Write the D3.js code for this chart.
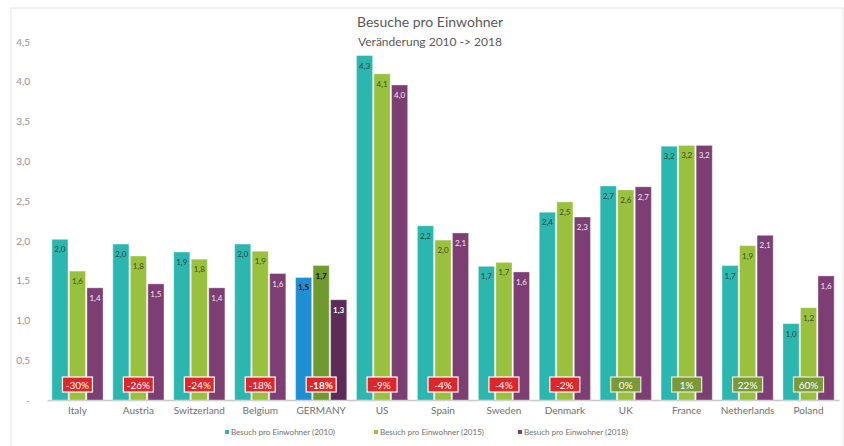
<!DOCTYPE html>
<html>
<head>
  <meta charset="utf-8">
  <title>Besuche pro Einwohner</title>
  <script src="https://d3js.org/d3.v7.min.js"></script>
  <style>
    body {
      margin: 0;
      background: #ffffff;
    }
    svg text {
      font-family: Lato, "Open Sans", sans-serif;
    }
  </style>
</head>
<body>
  <div id="chart"></div>
  <script>
    // data
    var countries = ["Italy", "Austria", "Switzerland", "Belgium", "GERMANY", "US", "Spain",
                     "Sweden", "Denmark", "UK", "France", "Netherlands", "Poland"];
    var seriesNames = ["Besuch pro Einwohner (2010)", "Besuch pro Einwohner (2015)", "Besuch pro Einwohner (2018)"];
    var v2010 = [2.02, 1.96, 1.86, 1.96, 1.54, 4.33, 2.19, 1.68, 2.36, 2.69, 3.19, 1.69, 0.96];
    var v2015 = [1.62, 1.81, 1.77, 1.87, 1.69, 4.10, 2.01, 1.73, 2.49, 2.64, 3.20, 1.94, 1.16];
    var v2018 = [1.41, 1.46, 1.41, 1.59, 1.26, 3.96, 2.10, 1.61, 2.30, 2.68, 3.20, 2.07, 1.56];
    var changes = [-30, -26, -24, -18, -18, -9, -4, -4, -2, 0, 1, 22, 60];
    var yTicks = [0, 0.5, 1, 1.5, 2, 2.5, 3, 3.5, 4, 4.5];

    var colors = ["#2bb7b0", "#99c13d", "#7d3f73"];
    var germanyColors = ["#1f8fd4", "#6e9a30", "#5c2b57"];
    var labelColors = ["#1c4646", "#3c4d18", "#f2e6f0"];

    var W = 844, H = 446;
    var svg = d3.select("#chart").append("svg")
      .attr("width", W)
      .attr("height", H);

    // light frame round the chart
    svg.append("rect")
      .attr("x", 11).attr("y", 8)
      .attr("width", 832).attr("height", 450)
      .attr("fill", "none")
      .attr("stroke", "#e6e6e6");

    var x = d3.scaleBand()
      .domain(countries)
      .range([47, 839])
      .paddingInner(0.16)
      .paddingOuter(0.08);

    var xs = d3.scaleBand()
      .domain([0, 1, 2])
      .range([0, x.bandwidth()])
      .paddingInner(0.08);

    var y = d3.scaleLinear()
      .domain([0, 4.5])
      .range([400, 42]);

    var fmt = function(v) { return d3.format(".1f")(v).replace(".", ","); };

    // title
    svg.append("text")
      .attr("x", 430).attr("y", 27)
      .attr("text-anchor", "middle")
      .style("font-size", "14px")
      .style("fill", "#595959")
      .text("Besuche pro Einwohner");
    svg.append("text")
      .attr("x", 430).attr("y", 46)
      .attr("text-anchor", "middle")
      .style("font-size", "12px")
      .style("fill", "#595959")
      .text("Veränderung 2010 -> 2018");

    // y axis labels (no line, no grid)
    var yAxis = svg.append("g")
      .attr("transform", "translate(33,0)")
      .call(d3.axisLeft(y).tickValues(yTicks).tickSize(0).tickFormat(function(d) { return d === 0 ? "-" : fmt(d); }));
    yAxis.select(".domain").remove();
    yAxis.selectAll("text")
      .style("font-size", "10px")
      .style("fill", "#949494")
      .style("font-family", "Lato, sans-serif");

    // baseline + category labels
    var xAxis = svg.append("g")
      .attr("transform", "translate(0,400)")
      .call(d3.axisBottom(x).tickSize(0).tickPadding(7));
    xAxis.select(".domain")
      .attr("stroke", "#c8c8c8")
      .attr("stroke-width", 1.5);
    xAxis.selectAll("text")
      .style("font-size", "10px")
      .style("fill", "#707070")
      .style("font-family", "Lato, sans-serif");

    var table = countries.map(function(c, i) {
      return { country: c, values: [v2010[i], v2015[i], v2018[i]], change: changes[i] };
    });

    var groups = svg.selectAll(".grp")
      .data(table)
      .enter().append("g")
      .attr("class", "grp")
      .attr("transform", function(d) { return "translate(" + x(d.country) + ",0)"; });

    groups.selectAll("rect")
      .data(function(d) { return d.values.map(function(v, k) { return { v: v, k: k, country: d.country }; }); })
      .enter().append("rect")
      .attr("x", function(d) { return xs(d.k); })
      .attr("y", function(d) { return y(d.v); })
      .attr("width", xs.bandwidth())
      .attr("height", function(d) { return y(0) - y(d.v); })
      .attr("fill", function(d) { return d.country === "GERMANY" ? germanyColors[d.k] : colors[d.k]; })
      .attr("stroke", "#ffffff")
      .attr("stroke-opacity", 0.35)
      .attr("stroke-width", 1);

    groups.selectAll(".val")
      .data(function(d) { return d.values.map(function(v, k) { return { v: v, k: k, country: d.country }; }); })
      .enter().append("text")
      .attr("class", "val")
      .attr("x", function(d) { return xs(d.k) + xs.bandwidth() / 2; })
      .attr("y", function(d) { return y(d.v) + 13; })
      .attr("text-anchor", "middle")
      .style("font-size", "8px")
      .style("font-weight", function(d) { return d.country === "GERMANY" ? "bold" : "normal"; })
      .style("fill", function(d) {
        if (d.country === "GERMANY") return d.k === 2 ? "#ffffff" : "#111111";
        return labelColors[d.k];
      })
      .text(function(d) { return fmt(d.v); });

    // change boxes
    groups.append("rect")
      .attr("x", x.bandwidth() / 2 - 15)
      .attr("y", 377)
      .attr("width", 30)
      .attr("height", 15)
      .attr("fill", function(d) { return d.change < 0 ? "#e0262a" : "#7a9a38"; })
      .attr("stroke", function(d) { return d.change < 0 ? "#ffffff" : "#e8efd8"; })
      .attr("stroke-width", 1.2);

    groups.append("text")
      .attr("x", x.bandwidth() / 2)
      .attr("y", 388.5)
      .attr("text-anchor", "middle")
      .style("font-size", "10px")
      .style("font-weight", function(d) { return d.country === "GERMANY" ? "bold" : "normal"; })
      .style("fill", "#ffffff")
      .text(function(d) { return d.change + "%"; });

    // legend
    var legendX = [225, 374, 518];
    var legend = svg.selectAll(".leg")
      .data(seriesNames)
      .enter().append("g")
      .attr("class", "leg")
      .attr("transform", function(d, i) { return "translate(" + legendX[i] + ",434)"; });
    legend.append("rect")
      .attr("x", 0).attr("y", -4)
      .attr("width", 4).attr("height", 4)
      .attr("fill", function(d, i) { return colors[i]; });
    legend.append("text")
      .attr("x", 6).attr("y", 0.5)
      .style("font-size", "8px")
      .style("fill", "#707070")
      .text(function(d) { return d; });
  </script>
</body>
</html>
